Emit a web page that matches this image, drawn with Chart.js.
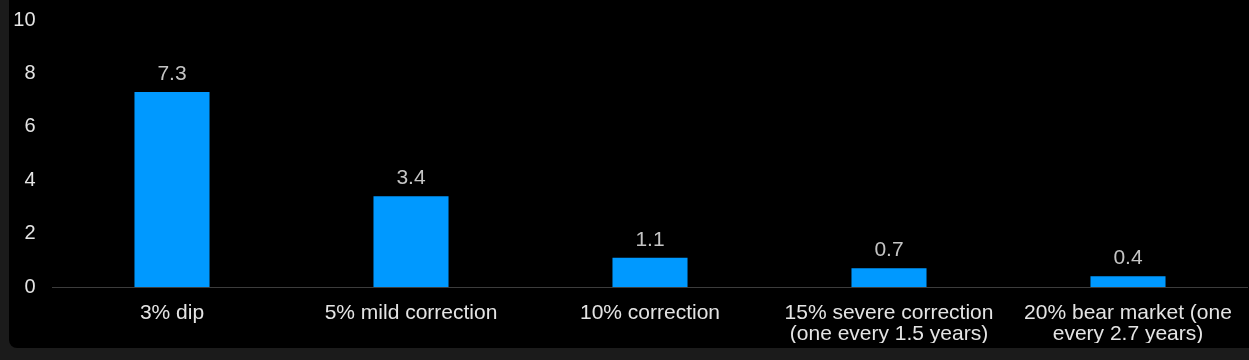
<!DOCTYPE html>
<html>
<head>
<meta charset="utf-8">
<script src="https://cdn.jsdelivr.net/npm/chart.js@4/dist/chart.umd.min.js"></script>
<style>
  html, body { margin: 0; padding: 0; background: #1b1b1b; width: 1249px; height: 360px; overflow: hidden; }
  #panel { position: absolute; left: 9px; top: 0; width: 1240px; height: 348px; background: #000; border-bottom-left-radius: 8px; overflow: hidden; }
  #wrap { position: absolute; left: 0; top: -9px; width: 1240px; height: 357px; }
</style>
</head>
<body>
<div id="panel"><div id="wrap"><canvas id="c"></canvas></div></div>
<script>
const categories = [
  "3% dip",
  "5% mild correction",
  "10% correction",
  ["15% severe correction", "(one every 1.5 years)"],
  ["20% bear market (one", "every 2.7 years)"]
];
const values = [7.3, 3.4, 1.1, 0.7, 0.4];
const yTicks = [0, 2, 4, 6, 8, 10];

const FONT = "'Liberation Sans', Arial, Helvetica, sans-serif";

const valueLabels = {
  id: 'valueLabels',
  afterDatasetsDraw(chart) {
    const ctx = chart.ctx;
    const meta = chart.getDatasetMeta(0);
    ctx.save();
    ctx.font = "21px " + FONT;
    ctx.fillStyle = "#c4c4c4";
    ctx.textAlign = "center";
    ctx.textBaseline = "alphabetic";
    meta.data.forEach((bar, i) => {
      ctx.fillText(String(values[i]), bar.x, bar.y - 12);
    });
    ctx.restore();
  }
};

new Chart(document.getElementById('c'), {
  type: 'bar',
  data: {
    labels: categories,
    datasets: [{
      data: values,
      backgroundColor: '#0099ff',
      borderWidth: 0,
      categoryPercentage: 1,
      barPercentage: 0.314
    }]
  },
  options: {
    responsive: true,
    maintainAspectRatio: false,
    animation: false,
    devicePixelRatio: 1,
    layout: { padding: { top: 19.5, right: 1.5, bottom: 5, left: 0 } },
    plugins: { legend: { display: false }, tooltip: { enabled: false } },
    scales: {
      x: {
        afterFit(scale) { scale.height = 56; },
        grid: { display: false, drawTicks: false },
        border: { display: true, color: '#3c3c3c', width: 1 },
        ticks: {
          color: '#e4e4e4',
          font: { family: FONT, size: 21, lineHeight: 1.0 },
          padding: 16,
          maxRotation: 0,
          autoSkip: false
        }
      },
      y: {
        min: 0,
        max: 10,
        afterBuildTicks(scale) { scale.ticks = yTicks.map(v => ({ value: v })); },
        afterFit(scale) { scale.width = 43.5; },
        grid: { display: false, drawTicks: false },
        border: { display: false },
        ticks: {
          color: '#e4e4e4',
          font: { family: FONT, size: 20 },
          padding: 17
        }
      }
    }
  },
  plugins: [valueLabels]
});
</script>
</body>
</html>
